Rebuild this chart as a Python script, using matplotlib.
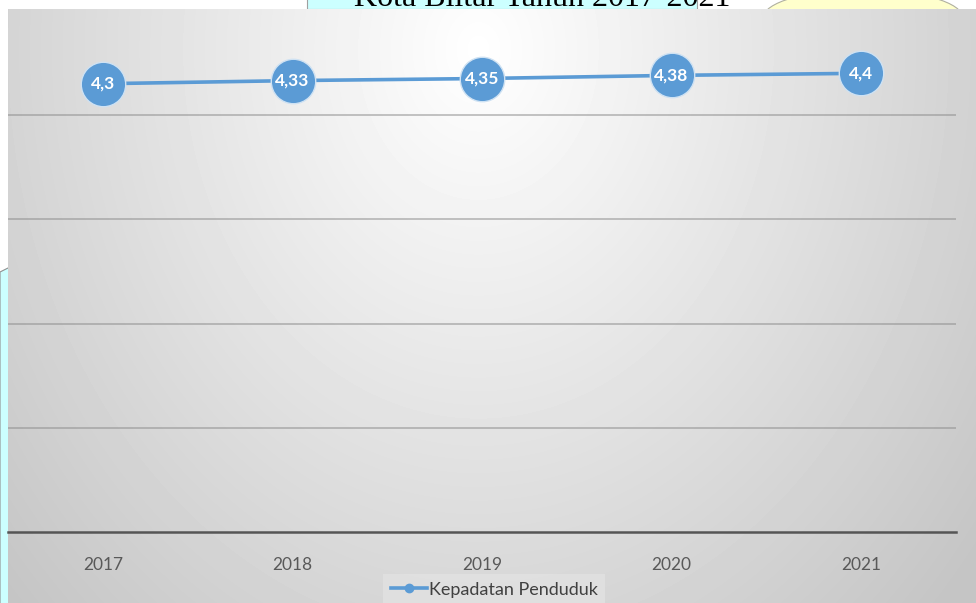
import numpy as np
import matplotlib
matplotlib.use("Agg")
import matplotlib.pyplot as plt
from matplotlib.patches import Rectangle, Ellipse, Polygon

tahun = ["2017", "2018", "2019", "2020", "2021"]
kepadatan = [4.30, 4.33, 4.35, 4.38, 4.40]
label_nilai = ["4,3", "4,33", "4,35", "4,38", "4,4"]
nama_seri = "Kepadatan Penduduk"
judul = "Kota Blitar Tahun 2017-2021"

W, H = 976, 603
biru = "#5b9bd5"

plt.rcParams["font.family"] = ["Lato", "DejaVu Sans"]

fig = plt.figure(figsize=(W / 100, H / 100), dpi=100)
fig.patch.set_facecolor("white")

# layer dekorasi (koordinat piksel)
deco = fig.add_axes([0, 0, 1, 1])
deco.set_xlim(0, W)
deco.set_ylim(H, 0)
deco.axis("off")
deco.add_patch(Rectangle((307, -5), 390, 14, facecolor="#ccffff", edgecolor="#a0a0a0", lw=0.8))
deco.add_patch(Ellipse((863, 18), 200, 57, facecolor="#ffffcc", edgecolor="#b0b0a0", lw=0.8))
deco.add_patch(Polygon([(0, 272), (20, 262), (20, H + 5), (0, H + 5)], closed=True,
                       facecolor="#ccffff", edgecolor="#909090", lw=0.8))
deco.text(542, 6, judul, family="Liberation Serif", fontsize=23, ha="center", va="baseline",
          color="black")

# latar chart dengan gradasi radial
bg = fig.add_axes([8 / W, 0, (W - 8) / W, (H - 9) / H])
yy, xx = np.mgrid[0:594, 0:968]
d = np.sqrt(((xx - 470) / 560.0) ** 2 + ((yy - 40) / 700.0) ** 2)
v = np.clip(1.0 - 0.2 * d, 0.77, 1.0)
bg.imshow(v, cmap="gray", vmin=0, vmax=1, aspect="auto", interpolation="bilinear")
bg.axis("off")

# plot utama
ax = fig.add_axes([8.25 / W, 71 / H, 947.5 / W, 521.25 / H])
ax.set_facecolor("none")
x = np.arange(len(tahun))
ax.set_xlim(-0.5, len(tahun) - 0.5)
ax.set_ylim(0, 5)
ax.set_yticks([1, 2, 3, 4])
ax.yaxis.grid(True, color="#8c8c8c", alpha=0.55, lw=1.3)
ax.tick_params(axis="y", left=False, labelleft=False)
ax.axhline(0, color="#555555", lw=1.8, clip_on=False)
for s in ax.spines.values():
    s.set_visible(False)
ax.set_xticks(x)
ax.set_xticklabels(tahun, fontsize=12.5, color="#595959")
ax.tick_params(axis="x", length=0, pad=18)

ax.plot(x, kepadatan, color=biru, lw=2.6, marker="o", markersize=32,
        markerfacecolor=biru, markeredgecolor="#cfe2f3", markeredgewidth=1.0,
        label=nama_seri, zorder=3)
for xi, yi, t in zip(x, kepadatan, label_nilai):
    ax.text(xi, yi, t, ha="center", va="center", color="white", fontsize=12.5,
            fontweight="bold", zorder=4)

leg = fig.legend(handles=[plt.Line2D([], [], color=biru, lw=2.6, marker="o", markersize=6)],
                 labels=[nama_seri], loc="lower center", bbox_to_anchor=(494 / W, -0.018),
                 frameon=True, fontsize=13, handlelength=2.0, handletextpad=0.1,
                 borderpad=0.4, fancybox=False)
leg.get_frame().set_facecolor("#e2e2e2")
leg.get_frame().set_edgecolor("none")
leg.get_frame().set_alpha(0.8)
for t in leg.get_texts():
    t.set_color("#404040")

fig.savefig("out.png", dpi=100)
